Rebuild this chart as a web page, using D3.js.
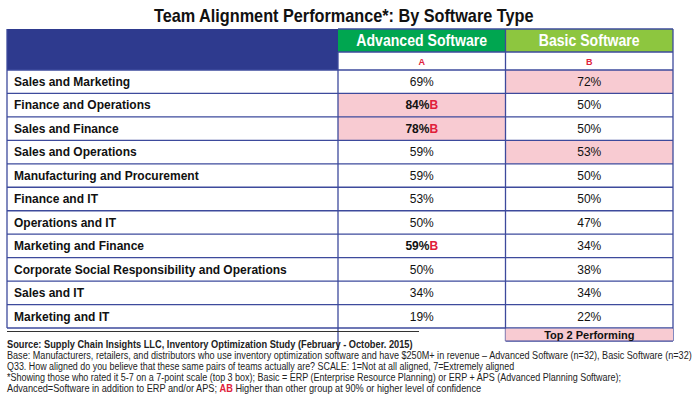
<!DOCTYPE html>
<html><head><meta charset="utf-8">
<script src="https://cdn.jsdelivr.net/npm/d3@7"></script>
<style>
html,body{margin:0;padding:0;background:#fff;}
svg{display:block;font-family:"Liberation Sans",Arial,sans-serif;}
</style></head>
<body>
<svg id="chart" width="700" height="403"></svg>
<script>
const title = "Team Alignment Performance*: By Software Type";
const columns = ["Advanced Software", "Basic Software"];
const columnKeys = ["A", "B"];
const categories = [
  "Sales and Marketing",
  "Finance and Operations",
  "Sales and Finance",
  "Sales and Operations",
  "Manufacturing and Procurement",
  "Finance and IT",
  "Operations and IT",
  "Marketing and Finance",
  "Corporate Social Responsibility and Operations",
  "Sales and IT",
  "Marketing and IT"
];
const advancedValues = [69, 84, 78, 59, 59, 53, 50, 59, 50, 34, 19];
const basicValues    = [72, 50, 50, 53, 50, 50, 47, 34, 38, 34, 22];
// significance letter (higher than other group) per cell
const advancedSig = ["", "B", "B", "", "", "", "", "B", "", "", ""];
const basicSig    = ["", "", "", "", "", "", "", "", "", "", ""];
// top-2 performing flags
const advancedTop = [false, true, true, false, false, false, false, false, false, false, false];
const basicTop    = [true, false, false, true, false, false, false, false, false, false, false];
const legendLabel = "Top 2 Performing";
const footnotes = [
  "Source:  Supply Chain Insights LLC, Inventory Optimization Study (February - October. 2015)",
  "Base: Manufacturers, retailers, and distributors who use inventory optimization software and have $250M+ in revenue \u2013 Advanced Software (n=32), Basic Software (n=32)",
  "Q33. How aligned do you believe that these same pairs of teams actually are? SCALE: 1=Not at all aligned, 7=Extremely aligned",
  "*Showing those who rated it 5-7 on a 7-point scale (top 3 box); Basic = ERP (Enterprise Resource Planning) or ERP + APS (Advanced Planning Software);",
  "Advanced=Software in addition to ERP and/or APS; "
];
const footnoteKey = "AB";
const footnoteTail = " Higher than other group at 90% or higher level of confidence";

const svg = d3.select("#chart");
const C = {navy:"#2e3a8e", line:"#3d4a9c", green:"#00a650", lime:"#8dc63f", pink:"#f8cbd2", red:"#e0203a"};

const left = 7, right = 673, colStart = 338, tableTop = 29, headH = 23, subH = 18;
const bodyTop = tableTop + headH + subH, bodyBottom = 328;

const xCol = d3.scaleBand().domain(columnKeys).range([colStart, right]);
const y = d3.scaleBand().domain(categories).range([bodyTop, bodyBottom]);

// helper: place text in a group and squeeze it horizontally to a target width (condensed look)
function condensed(parent, x, yPos, width, anchor) {
  const g = parent.append("g");
  const t = g.append("text").attr("x", 0).attr("y", 0);
  return {g, t, fit() {
    const w = t.node().getComputedTextLength();
    const s = width / w;
    let tx = x;
    if (anchor === "middle") tx = x - width / 2;
    g.attr("transform", `translate(${tx},${yPos}) scale(${s},1)`);
  }};
}

// title
{
  const c = condensed(svg, 344, 22, 380, "middle");
  c.t.attr("font-size", 18).attr("font-weight", "bold").attr("fill", "#111").text(title);
  c.fit();
}

// header blue block
svg.append("rect").attr("x", left).attr("y", tableTop).attr("width", colStart - left).attr("height", headH + subH).attr("fill", C.navy);
// column headers
const colColors = [C.green, C.lime];
const headW = [131, 101];
columnKeys.forEach((k, i) => {
  svg.append("rect").attr("x", xCol(k)).attr("y", tableTop).attr("width", xCol.bandwidth()).attr("height", headH).attr("fill", colColors[i]);
  const c = condensed(svg, xCol(k) + xCol.bandwidth()/2, tableTop + headH/2 + 5.8, headW[i], "middle");
  c.t.attr("fill", "#fff").attr("font-weight", "bold").attr("font-size", 16).text(columns[i]);
  c.fit();
  svg.append("rect").attr("x", xCol(k)).attr("y", tableTop + headH).attr("width", xCol.bandwidth()).attr("height", subH).attr("fill", "#fff");
  svg.append("text").attr("x", xCol(k) + xCol.bandwidth()/2).attr("y", tableTop + headH + subH/2 + 3.5)
    .attr("text-anchor", "middle").attr("fill", C.red).attr("font-weight", "bold").attr("font-size", 9)
    .text(k);
});

// body cells
const series = [
  {key: "A", values: advancedValues, sig: advancedSig, top2: advancedTop},
  {key: "B", values: basicValues, sig: basicSig, top2: basicTop}
];
series.forEach(s => {
  categories.forEach((c, i) => {
    if (s.top2[i]) {
      svg.append("rect").attr("x", xCol(s.key)).attr("y", y(c)).attr("width", xCol.bandwidth()).attr("height", y.bandwidth()).attr("fill", C.pink);
    }
  });
});

// row labels
svg.append("g").selectAll("text").data(categories).join("text")
  .attr("x", 14).attr("y", d => y(d) + y.bandwidth()/2 + 4.3)
  .attr("font-size", 12).attr("font-weight", "bold").attr("fill", "#111")
  .text(d => d);

// values
series.forEach(s => {
  const g = svg.append("g");
  categories.forEach((c, i) => {
    const t = g.append("text").attr("x", xCol(s.key) + xCol.bandwidth()/2).attr("y", y(c) + y.bandwidth()/2 + 4.3)
      .attr("text-anchor", "middle").attr("font-size", 12).attr("fill", "#111");
    if (s.sig[i]) {
      t.append("tspan").attr("font-weight", "bold").text(s.values[i] + "%");
      t.append("tspan").attr("font-weight", "bold").attr("fill", C.red).text(s.sig[i]);
    } else {
      t.text(s.values[i] + "%");
    }
  });
});

// grid lines
const grid = svg.append("g").attr("stroke", C.line).attr("stroke-width", 1.3).attr("fill", "none");
categories.forEach(c => {
  grid.append("line").attr("x1", left).attr("x2", right).attr("y1", y(c)).attr("y2", y(c));
});
grid.append("line").attr("x1", left).attr("x2", right).attr("y1", bodyBottom).attr("y2", bodyBottom);
grid.append("line").attr("x1", colStart).attr("x2", right).attr("y1", tableTop + headH).attr("y2", tableTop + headH);
grid.append("line").attr("x1", colStart).attr("x2", right).attr("y1", tableTop).attr("y2", tableTop);
grid.append("line").attr("x1", left).attr("x2", left).attr("y1", tableTop).attr("y2", bodyBottom);
grid.append("line").attr("x1", colStart).attr("x2", colStart).attr("y1", tableTop + headH).attr("y2", 350);
grid.append("line").attr("x1", xCol("B")).attr("x2", xCol("B")).attr("y1", tableTop).attr("y2", bodyBottom + 13);
grid.append("line").attr("x1", right).attr("x2", right).attr("y1", tableTop).attr("y2", bodyBottom + 13);

// legend "Top 2 Performing"
svg.append("rect").attr("x", xCol("B")).attr("y", bodyBottom + 0.7).attr("width", xCol.bandwidth()).attr("height", 12.5)
  .attr("fill", C.pink);
svg.append("line").attr("x1", xCol("B")).attr("x2", right).attr("y1", bodyBottom + 13.2).attr("y2", bodyBottom + 13.2).attr("stroke", C.line).attr("stroke-width", 1.3);
svg.append("text").attr("x", xCol("B") + xCol.bandwidth()/2).attr("y", bodyBottom + 10.8)
  .attr("text-anchor", "middle").attr("font-size", 11).attr("font-weight", "bold").attr("fill", "#111")
  .text(legendLabel);

// source separator
svg.append("line").attr("x1", left).attr("x2", 419).attr("y1", 331.5).attr("y2", 331.5).attr("stroke", "#333").attr("stroke-width", 1);

// footnotes
const fnY = [347.5, 359, 370, 381, 392];
const fnW = [406, 686, 508, 615, 475];
footnotes.forEach((f, i) => {
  const c = condensed(svg, 7, fnY[i], fnW[i], "start");
  c.t.attr("font-size", 11).attr("fill", "#222");
  if (i === 0) c.t.attr("font-weight", "bold");
  if (i === 4) {
    c.t.append("tspan").text(f);
    c.t.append("tspan").attr("fill", C.red).attr("font-weight", "bold").text(footnoteKey);
    c.t.append("tspan").text(footnoteTail);
  } else {
    c.t.text(f);
  }
  c.fit();
});
</script>
</body></html>
